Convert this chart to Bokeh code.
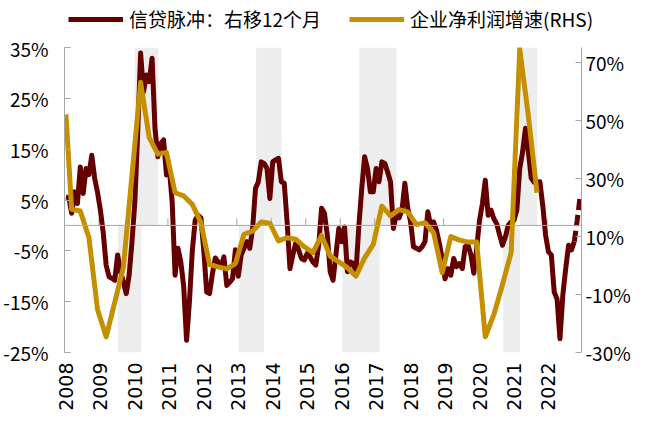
import math
from bokeh.plotting import figure
from bokeh.layouts import column
from bokeh.models import (Range1d, LinearAxis, FixedTicker, Span, Legend, LegendItem,
                          PrintfTickFormatter, CustomJSTickFormatter)
from bokeh.embed import file_html
from bokeh.resources import INLINE

# ---------------- data ----------------
start_year = 2008
credit_impulse = [
    5.6, 5.5, 2.4, 6.6, 4.3, 11.5, 6.3, 11.2, 10.0, 13.8, 9.3, 6.5,
    3.0, -1.5, -7.8, -10.1, -10.4, -10.8, -5.8, -9.1, -11.1, -13.4, -9.8, -3.2,
    4.7, 18.4, 33.9, 26.3, 29.6, 28.3, 32.9, 19.1, 13.5, 16.1, 16.8, 9.9,
    11.2, 4.5, -9.8, -4.5, -7.2, -12.0, -22.6, -15.0, -5.0, 1.0, 2.0, 1.5,
    -5.0, -13.1, -13.4, -9.5, -6.4, -7.2, -8.1, -6.2, -11.8, -11.2, -10.5, -4.8,
    -10.0, -5.8, -4.5, -3.2, -4.5, -0.6, 7.3, 8.6, 12.5, 12.2, 11.2, 5.3,
    12.5, 12.9, 13.2, 8.6, 8.3, 0.7, -8.5, -5.8, -3.5, -4.8, -6.5, -6.8,
    -5.5, -6.2, -7.2, -7.8, -3.9, 3.4, 2.4, -1.9, -9.1, -10.8, -5.8, -0.6,
    -3.2, -0.3, -9.1, -7.2, -7.5, -9.0, 0.0, 7.3, 13.5, 11.2, 6.6, 6.6,
    11.2, 8.6, 12.5, 12.2, 10.5, 8.6, -0.6, 2.0, 1.5, 3.0, 8.3, 3.4,
    0.7, -4.2, -4.5, -4.8, -4.2, -3.2, 2.7, 0.0, 0.7, -0.9, -3.5, -6.5,
    -10.5, -8.5, -9.8, -6.5, -8.1, -7.5, -8.5, -4.2, -3.9, -5.8, -9.4, -4.5,
    1.0, 4.3, 8.9, 2.0, 3.0, 1.3, 0.3, -1.9, -3.9, -2.3, 0.0, 0.7,
    1.0, 3.0, 11.2, 14.5, 19.1, 14.5, 9.3, 8.5, 8.5, 8.6, 4.0, -1.9,
    -5.2, -5.8, -13.1, -14.5, -22.3, -13.7, -8.5, -3.9, -4.8, -3.2, 1.0, 5.6,
]
n_solid = 178  # the last months are a projection (dashed)

profit_months = [
    "2008-01", "2008-03", "2008-06", "2008-09", "2008-12", "2009-03", "2009-09",
    "2010-03", "2010-06", "2010-09", "2010-12", "2011-03", "2011-06", "2011-09",
    "2011-12", "2012-03", "2012-06", "2012-09", "2012-12", "2013-03", "2013-06",
    "2013-09", "2013-12", "2014-03", "2014-06", "2014-09", "2014-12", "2015-03",
    "2015-06", "2015-09", "2016-03", "2016-06", "2016-09", "2016-12", "2017-03",
    "2017-06", "2017-09", "2017-12", "2018-03", "2018-06", "2018-09", "2018-12",
    "2019-03", "2019-06", "2019-09", "2019-12", "2020-03", "2020-06", "2020-09",
    "2020-12", "2021-03", "2021-06", "2021-09",
]
profit_growth = [
    52.0, 19.3, 18.7, 9.6, -15.2, -24.6, -0.7,
    63.0, 44.0, 38.3, 38.9, 25.0, 23.9, 21.0,
    14.7, 0.3, -0.5, -1.2, 0.6, 10.7, 11.8,
    14.9, 14.5, 8.4, 9.5, 9.0, 6.4, 4.4,
    10.3, 3.2, -0.8, -3.7, 2.6, 7.2, 20.4,
    17.0, 19.2, 18.4, 14.0, 14.7, 11.3, -2.5,
    9.9, 8.7, 8.0, 8.0, -24.6, -16.9, -6.6,
    4.4, 74.5, 51.5, 25.0,
]

# shaded periods (decimal years): upper half (above zero) and lower half (below zero)
upper_start = [2010.04, 2013.56, 2016.55, 2021.22]
upper_end = [2010.72, 2014.30, 2017.63, 2021.71]
lower_start = [2009.55, 2013.06, 2016.06, 2020.73]
lower_end = [2010.23, 2013.79, 2017.14, 2021.22]

left_ticks = [-25, -15, -5, 5, 15, 25, 35]
right_ticks = [-30, -10, 10, 30, 50, 70]
year_labels = list(range(2008, 2023))

label_1 = "信贷脉冲：右移12个月"
label_2 = "企业净利润增速(RHS)"

# ---------------- helpers ----------------
def month_x(s):
    y, m = s.split("-")
    return int(y) + (int(m) - 0.5) / 12.0

ci_x = [start_year + (i + 0.5) / 12.0 for i in range(len(credit_impulse))]
pg_x = [month_x(s) for s in profit_months]

DARK = "#640000"
GOLD = "#c49000"
AXIS = "#a6a6a6"
BAND = "#ededed"
FONT = "Noto Sans CJK SC"

# ---------------- legend strip ----------------
lg = figure(width=650, height=34, output_backend="svg", toolbar_location=None,
            x_axis_location=None, y_axis_location=None,
            x_range=Range1d(0, 1), y_range=Range1d(0, 1), min_border=0)
lg.outline_line_color = None
lg.grid.visible = False
lr1 = lg.line(x=[-2, -1], y=[-2, -1], line_color=DARK, line_width=5)
lr2 = lg.line(x=[-2, -1], y=[-2, -1], line_color=GOLD, line_width=5)


def make_legend(label, renderer, loc):
    lgd = Legend(items=[LegendItem(label=label, renderers=[renderer])],
                 orientation="horizontal", location=loc)
    lgd.glyph_width = 55
    lgd.glyph_height = 20
    lgd.label_height = 20
    lgd.label_standoff = 6
    lgd.padding = 0
    lgd.margin = 0
    lgd.border_line_color = None
    lgd.background_fill_alpha = 0
    lgd.label_text_font = FONT
    lgd.label_text_font_size = "19px"
    lgd.label_text_color = "black"
    return lgd


lg.add_layout(make_legend(label_1, lr1, (68, 2)), "center")
lg.add_layout(make_legend(label_2, lr2, (349, 2)), "center")

# ---------------- main chart ----------------
p = figure(width=650, height=382, output_backend="svg", toolbar_location=None,
           x_range=Range1d(2008, 2023), y_range=Range1d(-25, 35),
           min_border_left=58, min_border_right=69, min_border_top=13, min_border_bottom=64)
p.extra_y_ranges = {"rhs": Range1d(-30, 75)}
p.outline_line_color = None
p.grid.visible = False
p.background_fill_color = "white"

for fig in (lg, p):
    try:
        fig.frame_align = False
    except Exception:
        pass

# shaded bands
p.quad(left=upper_start, right=upper_end, bottom=0, top=35, fill_color=BAND, line_color=None)
p.quad(left=lower_start, right=lower_end, bottom=-25, top=0, fill_color=BAND, line_color=None)

# zero line with year ticks
p.add_layout(Span(location=0, dimension="width", line_color=AXIS, line_width=1))
p.segment(x0=year_labels[1:], x1=year_labels[1:], y0=0, y1=1.38, line_color=AXIS, line_width=1)

# series
p.line(ci_x[:n_solid], credit_impulse[:n_solid], line_color=DARK, line_width=5,
       line_join="round")
p.line(ci_x[n_solid - 1:], credit_impulse[n_solid - 1:], line_color=DARK, line_width=5,
       line_dash="11 5")
p.line(pg_x, profit_growth, line_color=GOLD, line_width=5, line_join="round",
       y_range_name="rhs")

# axes
xa = p.xaxis[0]
xa.ticker = FixedTicker(ticks=[y + 1 / 24 for y in year_labels])
xa.formatter = CustomJSTickFormatter(code="return Math.floor(tick).toString();")
xa.major_label_orientation = math.pi / 2
xa.axis_line_color = None
xa.major_tick_line_color = None
xa.minor_tick_line_color = None
xa.major_tick_out = 0
xa.major_tick_in = 0
xa.minor_tick_out = 0
xa.major_label_standoff = 10
xa.major_label_text_font = "DejaVu Sans"
xa.major_label_text_font_size = "19px"
xa.major_label_text_color = "black"

ya = p.yaxis[0]
ya.ticker = FixedTicker(ticks=left_ticks)
ya.formatter = PrintfTickFormatter(format="%d%%")
ya.axis_line_color = AXIS
ya.major_tick_line_color = AXIS
ya.major_tick_in = 6
ya.major_tick_out = 0
ya.minor_tick_out = 0
ya.minor_tick_line_color = None
ya.major_label_standoff = 16
ya.major_label_text_font = FONT
ya.major_label_text_font_size = "19px"
ya.major_label_text_color = "black"

ra = LinearAxis(y_range_name="rhs", ticker=FixedTicker(ticks=right_ticks),
                formatter=PrintfTickFormatter(format="%d%%"))
ra.axis_line_color = AXIS
ra.major_tick_line_color = AXIS
ra.major_tick_in = 6
ra.major_tick_out = 0
ra.minor_tick_out = 0
ra.minor_tick_line_color = None
ra.major_label_standoff = 4
ra.major_label_text_font = FONT
ra.major_label_text_font_size = "19px"
ra.major_label_text_color = "black"
p.add_layout(ra, "right")

layout = column(lg, p, spacing=0)
open("out.html", "w").write(file_html(layout, INLINE))
